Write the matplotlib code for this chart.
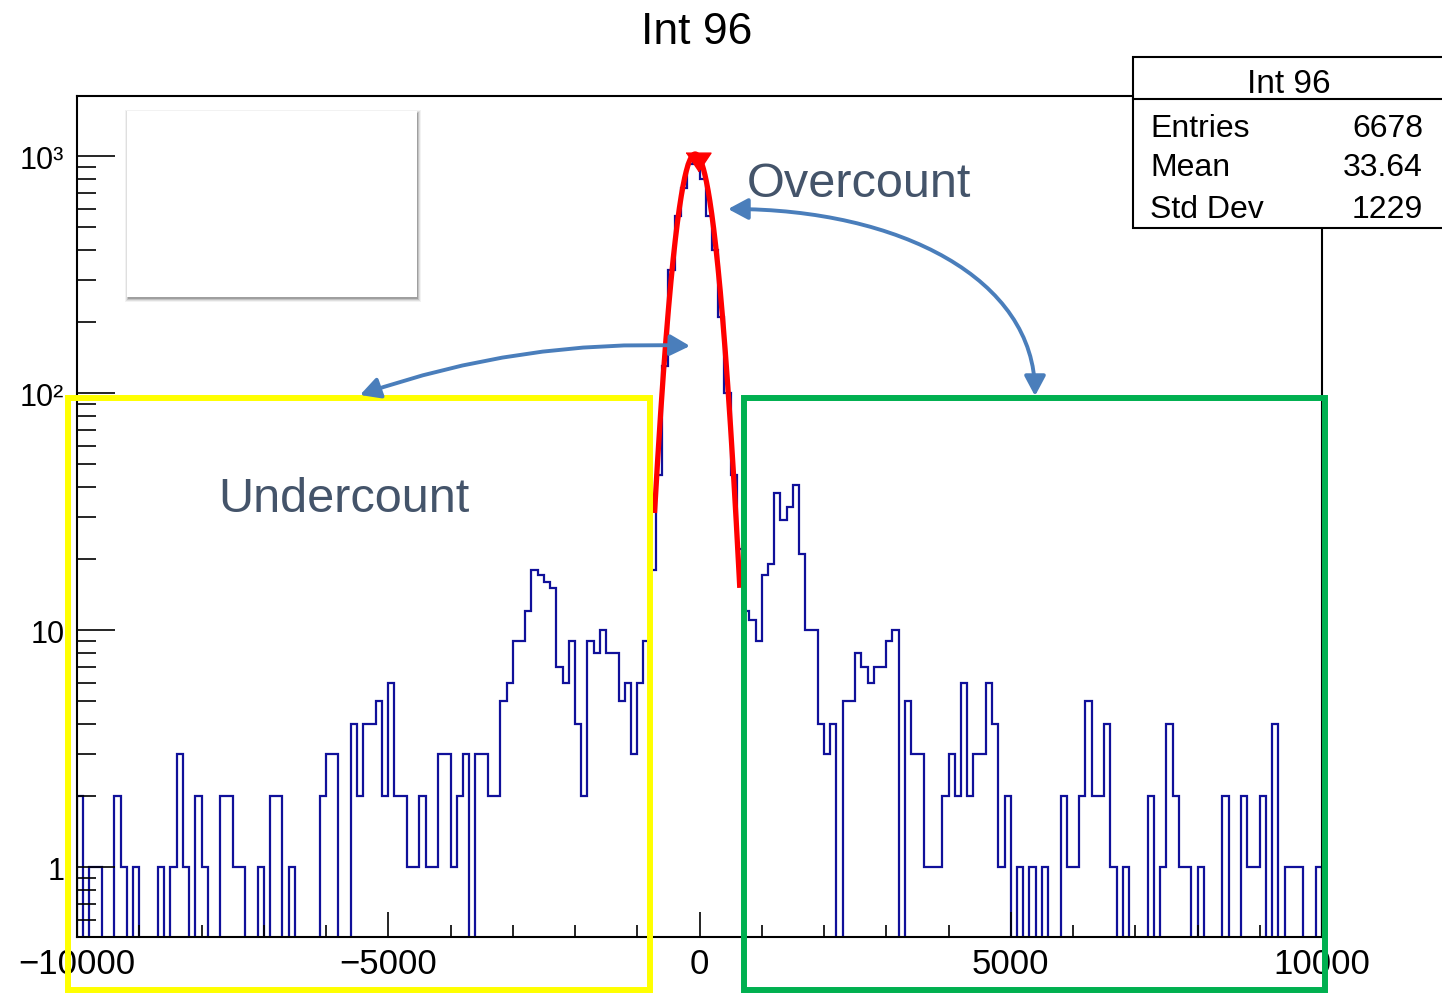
import numpy as np
import matplotlib
matplotlib.use('Agg')
import matplotlib.pyplot as plt
from matplotlib.patches import Rectangle, FancyArrowPatch
from matplotlib.path import Path
from matplotlib.ticker import LogLocator, NullFormatter, MultipleLocator

plt.rcParams['font.family'] = ['Liberation Sans', 'DejaVu Sans']

# histogram "Int 96": 200 bins of width 100 from -10000 to 10000
x_lo, x_hi, n_bins = -10000, 10000, 200
counts = [
    2, 0, 1, 1, 0, 0, 2, 1, 0, 1,
    0, 0, 0, 1, 0, 1, 3, 1, 0, 2,
    1, 0, 0, 2, 2, 1, 1, 0, 0, 1,
    0, 2, 2, 0, 1, 0, 0, 0, 0, 2,
    3, 3, 0, 0, 4, 2, 4, 4, 5, 2,
    6, 2, 2, 1, 1, 2, 1, 1, 3, 3,
    1, 2, 3, 0, 3, 3, 2, 2, 5, 6,
    9, 9, 12, 18, 17, 16, 15, 7, 6, 9,
    4, 2, 9, 8, 10, 8, 8, 5, 6, 3,
    6, 9, 18, 45, 130, 330, 560, 730, 930, 1000,
    800, 560, 400, 210, 100, 45, 22, 12, 11, 9,
    17, 19, 38, 29, 33, 41, 21, 10, 10, 4,
    3, 4, 0, 5, 5, 8, 7, 6, 7, 7,
    9, 10, 0, 5, 3, 3, 1, 1, 1, 2,
    3, 2, 6, 2, 3, 3, 6, 4, 1, 2,
    0, 1, 0, 1, 0, 1, 0, 0, 2, 1,
    1, 2, 5, 2, 2, 4, 1, 0, 1, 0,
    0, 0, 2, 0, 1, 4, 2, 1, 1, 0,
    1, 0, 0, 0, 2, 0, 0, 2, 1, 1,
    2, 0, 4, 0, 1, 1, 1, 0, 0, 1,
]

# gaussian fit (red) and peak marker
fit_amp, fit_mean, fit_sigma = 1020.0, -70.0, 247.0
fit_range = (-720, 645)
peak_x, peak_y = -30, 940

title = 'Int 96'
stat_names = ['Entries', 'Mean', 'Std Dev']
stat_values = ['6678', '33.64', '1229']

x_ticks = [-10000, -5000, 0, 5000, 10000]
x_ticklabels = ['\u221210000', '\u22125000', '0', '5000', '10000']
y_ticks = [1, 10, 100, 1000]
y_ticklabels = ['1', '10', '10\u00b2', '10\u00b3']

W, H = 1442, 995
fig = plt.figure(figsize=(W / 100, H / 100), dpi=100)


def fx(x):
    return x / W


def fy(y):
    return 1 - y / H


ax = fig.add_axes([fx(77), fy(938), fx(1322) - fx(77), fy(97) - fy(938)])

edges = np.linspace(x_lo, x_hi, n_bins + 1)
c = np.array(counts, dtype=float)
ax.stairs(np.where(c > 0, c, 1e-3), edges, baseline=1e-3, color='#10109a', lw=1.6)

xf = np.linspace(fit_range[0], fit_range[1], 400)
ax.plot(xf, fit_amp * np.exp(-0.5 * ((xf - fit_mean) / fit_sigma) ** 2), color='#ff0000', lw=3.8)
ax.plot([peak_x], [peak_y], linestyle='none', color='#ff0000',
        marker=[(-1, 0.75), (1, 0.75), (0, -0.75)], markersize=18)

ax.set_yscale('log')
ax.set_xlim(x_lo, x_hi)
ax.set_ylim(0.5066, 1792)

for s in ax.spines.values():
    s.set_linewidth(1.5)

ax.set_xticks(x_ticks, labels=x_ticklabels)
ax.xaxis.set_minor_locator(MultipleLocator(1000))
ax.set_yticks(y_ticks, labels=y_ticklabels)
ax.yaxis.set_minor_locator(LogLocator(base=10, subs=np.arange(2, 10) * 1.0, numticks=20))
ax.yaxis.set_minor_formatter(NullFormatter())
ax.tick_params(axis='x', which='major', direction='in', length=18, width=1.2, labelsize=25, pad=7)
ax.tick_params(axis='x', which='minor', direction='in', length=9, width=1.2)
ax.tick_params(axis='y', which='major', direction='in', length=27, width=1.2, labelsize=22, pad=9)
ax.tick_params(axis='y', which='minor', direction='in', length=13.5, width=1.2)

# title
fig.text(fx(697), fy(44), title, ha='center', va='baseline', fontsize=32)

# stats box
fig.add_artist(Rectangle((fx(1133), fy(229)), fx(1460) - fx(1133), fy(58) - fy(229),
                         transform=fig.transFigure, facecolor='white', edgecolor='black',
                         lw=1.5, zorder=6))
fig.add_artist(plt.Line2D([fx(1133), fx(1460)], [fy(100), fy(100)],
                          transform=fig.transFigure, color='black', lw=1.5, zorder=7))
fig.text(fx(1289), fy(93), title, ha='center', va='baseline', fontsize=24, zorder=8)
for i, (name, val) in enumerate(zip(stat_names, stat_values)):
    base = [137, 176, 218][i]
    fig.text(fx(1150), fy(base), name, ha='left', va='baseline', fontsize=23, zorder=8)
    fig.text(fx(1423), fy(base), val, ha='right', va='baseline', fontsize=23, zorder=8)

# empty box with shadow, top left
for k, a in zip(range(4, 0, -1), [0.05, 0.08, 0.12, 0.18]):
    fig.add_artist(Rectangle((fx(127 - k + 2), fy(298 + k + 1)), fx(290 + 2 * k - 2), fy(0) - fy(186 + 2 * k - 2),
                             transform=fig.transFigure, facecolor='black', edgecolor='none',
                             alpha=a, zorder=4))
fig.add_artist(Rectangle((fx(127), fy(298)), fx(290), fy(0) - fy(186),
                         transform=fig.transFigure, facecolor='white', edgecolor='none', zorder=5))

# highlight boxes
fig.add_artist(Rectangle((fx(68), fy(991)), fx(582), fy(0) - fy(592),
                         transform=fig.transFigure, facecolor='none', edgecolor='#ffff00',
                         lw=4.3, zorder=6))
fig.add_artist(Rectangle((fx(744), fy(991)), fx(581), fy(0) - fy(592),
                         transform=fig.transFigure, facecolor='none', edgecolor='#00b050',
                         lw=4.3, zorder=6))

# annotation text
note_color = '#44546a'
fig.text(fx(747), fy(197), 'Overcount', ha='left', va='baseline', fontsize=35, color=note_color, zorder=8)
fig.text(fx(218), fy(512), 'Undercount', ha='left', va='baseline', fontsize=35, color=note_color, zorder=8)

# curved double arrows
arrow_color = '#4a7ebb'
arrow_style = '<|-|>,head_length=0.6,head_width=0.32'
p1 = Path([(fx(360), fy(396)), (fx(520), fy(340)), (fx(690), fy(347))],
          [Path.MOVETO, Path.CURVE3, Path.CURVE3])
p2 = Path([(fx(728), fy(210)), (fx(900), fy(210)), (fx(1035), fy(280)), (fx(1035), fy(397))],
          [Path.MOVETO, Path.CURVE4, Path.CURVE4, Path.CURVE4])
for p in (p1, p2):
    fig.add_artist(FancyArrowPatch(path=p, arrowstyle=arrow_style, mutation_scale=20,
                                   color=arrow_color, lw=2.8, transform=fig.transFigure, zorder=7))

fig.savefig('out.png', dpi=100)
